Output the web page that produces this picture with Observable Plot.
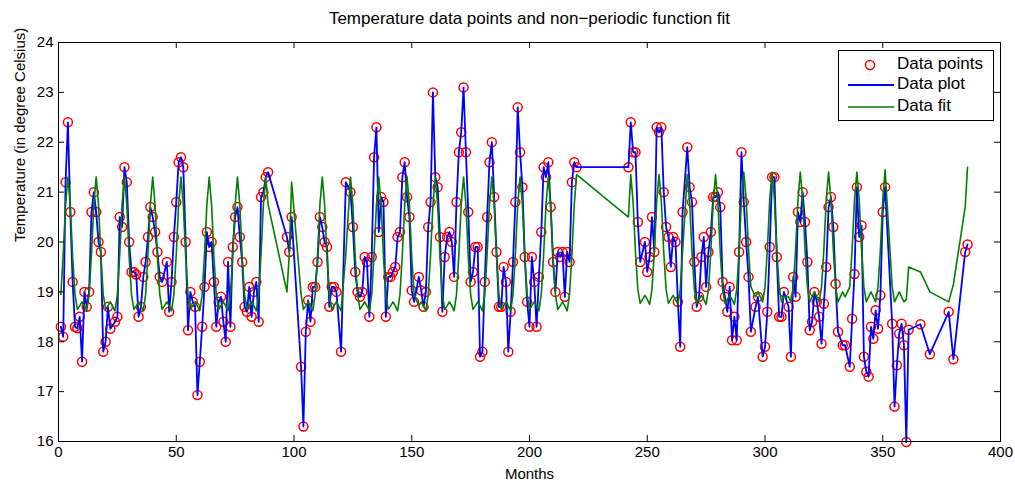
<!DOCTYPE html>
<html>
<head>
<meta charset="utf-8">
<script src="https://cdn.jsdelivr.net/npm/d3@7"></script>
<script src="https://cdn.jsdelivr.net/npm/@observablehq/plot@0.6"></script>
<style>
  html, body { margin: 0; padding: 0; background: #fff; }
  #wrap { position: relative; width: 1015px; height: 483px; font-family: "Liberation Sans", Arial, sans-serif; }
  #legend { position: absolute; left: 838px; top: 50px; width: 154px; height: 69px; border: 1px solid #000; background: #fff; }
  #legend svg { position: absolute; left: 0; top: 0; }
  #legend span { position: absolute; left: 58px; font-size: 17px; line-height: 20px; color: #000; white-space: nowrap; }
</style>
</head>
<body>
<div id="wrap">
  <div id="chart"></div>
  <div id="legend">
    <svg width="154" height="69">
      <circle cx="31" cy="14" r="4.5" fill="none" stroke="#ff0000" stroke-width="1.5"></circle>
      <line x1="9" x2="55" y1="34" y2="34" stroke="#0000ff" stroke-width="1.8"></line>
      <line x1="9" x2="55" y1="56" y2="56" stroke="#008000" stroke-width="1.6"></line>
    </svg>
    <span style="top:3px">Data points</span>
    <span style="top:23px">Data plot</span>
    <span style="top:45px">Data fit</span>
  </div>
</div>
<script>
const title = "Temperature data points and non\u2212periodic function fit";
const xLabel = "Months";
const yLabel = "Temperature (in degree Celsius)";
const xTicks = [0, 50, 100, 150, 200, 250, 300, 350, 400];
const yTicks = [16, 17, 18, 19, 20, 21, 22, 23, 24];

// Segment 1: months 1-89
const months1 = [1,2,3,4,5,6,7,8,9,10,11,12,13,14,15,16,17,18,19,20,21,22,
  24,25,26,27,28,29,30,31,32,33,34,35,36,37,38,39,40,41,42,43,44,
  46,47,48,49,50,51,52,53,54,55,56,57,58,59,60,61,62,63,64,65,66,67,68,69,70,71,72,73,74,75,76,77,78,79,80,81,82,83,84,85,86,87,88,89];
const temps1 = [18.3,18.1,21.2,22.4,20.6,19.2,18.3,18.27,18.5,17.6,19.0,18.7,19.0,20.6,21.0,20.6,20.0,19.8,17.8,18.0,18.7,18.26,
  18.4,18.5,20.5,20.3,21.5,21.2,20.0,19.4,19.4,19.35,18.5,18.7,19.3,19.6,20.1,20.7,20.5,20.2,19.8,19.3,19.2,
  19.6,18.6,19.2,20.1,20.8,21.6,21.7,21.5,20.0,18.23,19.0,18.8,18.7,16.93,17.6,18.3,19.1,20.2,19.9,20.0,19.2,18.3,18.8,18.9,18.4,18.0,19.6,18.3,19.9,20.5,20.7,20.1,19.6,18.7,18.6,19.1,18.5,19.0,19.2,18.4,20.9,21.0,21.3,21.4];
const fit1 = [18.95,19.75,20.75,21.3,20.75,19.7,18.95,18.65,18.72,18.8,18.72,18.62,18.95,19.75,20.75,21.3,20.75,19.7,18.95,18.65,18.72,18.8,
  18.62,18.95,19.75,20.75,21.3,20.75,19.7,18.95,18.65,18.72,18.8,18.72,18.62,18.95,19.75,20.75,21.3,20.75,19.7,18.95,18.65,
  18.8,18.72,18.62,18.95,19.75,20.75,21.3,20.75,19.7,18.95,18.65,18.72,18.8,18.72,18.62,18.95,19.75,20.75,21.3,20.75,19.7,18.95,18.65,18.72,18.8,18.72,18.62,18.95,19.75,20.75,21.3,20.75,19.7,18.95,18.65,18.72,18.8,18.72,18.62,18.95,19.75,20.75,21.3,20.75];

// Segment 2: months 97-220
const months2 = [97,98,99,
  103,104,105,106,107,108,109,110,111,112,113,114,115,116,117,118,
  120,122,
  124,125,126,127,128,129,130,131,132,133,134,135,136,137,138,139,140,141,142,143,144,145,146,147,148,149,150,151,
  153,154,155,156,157,158,159,160,161,162,163,164,165,166,167,168,169,170,171,172,173,174,175,176,177,178,179,180,181,182,183,184,185,186,187,188,189,190,191,192,193,194,195,196,197,198,199,200,201,202,203,204,205,206,207,208,209,210,211,212,213,214,215,216,217,218,219,220];
const temps2 = [20.1,19.8,20.5,
  17.5,16.3,18.2,18.83,18.4,19.1,19.1,19.6,20.5,20.3,20.0,19.9,18.7,19.1,19.1,19.0,
  17.8,21.2,
  21.0,20.3,19.4,19.0,18.9,19.0,19.7,19.6,18.5,19.7,21.7,22.3,20.2,20.9,20.8,18.5,19.3,19.3,19.4,19.5,20.1,20.2,21.3,21.6,20.9,20.5,19.03,18.8,
  19.3,19.03,18.7,19.0,20.3,20.8,23.0,21.3,21.1,20.1,18.6,19.7,20.1,20.2,20.0,19.3,20.8,21.8,22.2,23.1,21.8,20.6,19.2,19.4,19.9,19.9,17.7,17.8,19.2,20.5,21.6,22.0,20.9,19.8,18.7,18.7,19.5,19.2,17.8,18.6,19.6,20.8,22.7,21.8,21.1,19.7,18.8,18.3,19.7,19.2,18.3,19.3,20.2,21.5,21.3,21.6,20.7,19.6,19.0,19.8,19.7,19.8,18.9,19.8,19.6,21.2,21.6,21.5];
const fit2 = [19.0,19.75,21.2,
  18.95,18.65,18.72,18.8,18.72,18.62,18.95,19.75,20.75,21.3,20.75,19.7,18.95,18.65,18.72,18.8,
  18.62,19.75,
  21.3,20.75,19.7,18.95,18.65,18.72,18.8,18.72,18.62,18.95,19.75,20.75,21.3,20.75,19.7,18.95,18.65,18.72,18.8,18.72,18.62,18.95,19.75,20.75,21.3,20.75,19.7,18.95,
  18.72,18.8,18.72,18.62,18.95,19.75,20.75,21.3,20.75,19.7,18.95,18.65,18.72,18.8,18.72,18.62,18.95,19.75,20.75,21.3,20.75,19.7,18.95,18.65,18.72,18.8,18.72,18.62,18.95,19.75,20.75,21.3,20.75,19.7,18.95,18.65,18.72,18.8,18.72,18.62,18.95,19.75,20.75,21.3,20.75,19.7,18.95,18.65,18.72,18.8,18.72,18.62,18.95,19.75,20.75,21.3,20.75,19.7,18.95,18.65,18.72,18.8,18.72,18.62,18.95,19.75,20.75,21.35];

// Segment 3: months 242-386
const months3 = [242,243,244,245,246,247,
  249,250,251,252,253,254,255,256,257,258,259,260,261,262,263,264,265,
  267,268,269,270,271,272,273,274,275,276,277,278,279,280,281,282,283,284,285,286,287,288,289,290,291,292,293,294,
  296,297,
  299,300,301,302,303,304,305,306,307,308,
  310,311,312,313,314,315,316,317,318,319,320,321,322,323,324,325,326,327,328,329,330,331,
  333,334,
  336,337,338,339,340,341,342,343,344,345,346,347,348,349,350,351,
  354,355,356,357,358,359,360,361,
  366,370,378,380,385,386];
const temps3 = [21.5,22.4,21.8,21.8,20.4,19.6,
  20.0,19.4,19.7,20.5,19.8,22.3,22.2,22.3,21.0,20.3,20.1,19.5,20.1,20.0,18.8,17.9,20.6,
  21.9,21.1,20.8,19.6,18.7,18.9,19.7,20.1,19.1,19.8,20.2,20.9,20.9,21.0,20.7,19.2,18.9,18.6,19.1,18.03,18.5,18.03,19.8,21.8,20.8,20.0,19.3,18.2,
  18.7,18.9,
  17.7,17.9,18.6,19.9,21.3,21.3,19.7,18.5,18.5,19.0,
  18.7,17.7,19.3,18.9,20.6,20.4,21.0,20.4,19.6,18.23,18.4,19.0,18.8,18.5,17.96,18.76,19.5,20.7,20.9,20.3,19.16,18.2,
  17.93,17.93,
  17.5,18.46,19.36,21.1,20.1,20.33,17.7,17.4,17.3,18.3,18.06,18.63,18.26,18.93,20.6,21.1,
  18.36,16.7,17.53,18.16,18.36,17.93,15.99,18.24,
  18.35,17.75,18.6,17.65,19.8,19.95];
const fit3 = [20.5,21.35,20.8,19.8,19.05,18.77,
  18.93,18.85,18.75,19.05,19.8,20.8,21.35,20.8,19.8,19.05,18.77,18.85,18.93,18.85,18.75,19.05,19.8,
  21.35,20.8,19.8,19.05,18.77,18.85,18.93,18.85,18.75,19.05,19.8,20.8,21.35,20.8,19.8,19.05,18.77,18.85,18.93,18.85,18.75,19.05,19.8,20.85,21.4,20.85,19.85,19.1,
  18.9,19.0,
  18.8,19.1,19.85,20.85,21.4,20.85,19.85,19.1,18.8,18.9,
  18.9,18.8,19.1,19.85,20.85,21.4,20.85,19.85,19.1,18.8,18.9,19.0,18.9,18.8,19.1,19.85,20.85,21.4,20.85,19.85,19.1,18.8,
  19.0,18.9,
  19.1,19.85,20.85,21.4,20.85,19.85,19.1,18.8,18.9,19.0,18.9,18.8,19.1,19.85,20.85,21.45,
  19.1,18.8,18.9,19.0,18.9,18.8,18.85,19.5,
  19.4,19.0,18.8,19.15,20.7,21.5];

const months = months1.concat(months2, months3);
const temps = temps1.concat(temps2, temps3);
const fit = fit1.concat(fit2, fit3);
const rows = months.map((m, i) => ({month: m, temp: temps[i], fit: fit[i]}));

const W = 1015, H = 483, mL = 58, mR = 15, mT = 42, mB = 42;
const frameH = H - mT - mB, frameW = W - mL - mR, tickLen = 6;

const chart = Plot.plot({
  width: W,
  height: H,
  marginLeft: mL,
  marginRight: mR,
  marginTop: mT,
  marginBottom: mB,
  style: {fontFamily: "'Liberation Sans', Arial, sans-serif", fontSize: "15px", color: "#000", background: "#fff"},
  x: {domain: [0, 400]},
  y: {domain: [16, 24]},
  marks: [
    Plot.dot(rows, {x: "month", y: "temp", r: 4.5, stroke: "#ff0000", strokeWidth: 1.5, fill: "none"}),
    Plot.line(rows, {x: "month", y: "temp", stroke: "#0000ff", strokeWidth: 1.8}),
    Plot.line(rows, {x: "month", y: "fit", stroke: "#008000", strokeWidth: 1.6}),
    // inward ticks on all four sides
    Plot.tickX(xTicks, {x: d => d, insetTop: frameH - tickLen, stroke: "#000"}),
    Plot.tickX(xTicks, {x: d => d, insetBottom: frameH - tickLen, stroke: "#000"}),
    Plot.tickY(yTicks, {y: d => d, insetRight: frameW - tickLen, stroke: "#000"}),
    Plot.tickY(yTicks, {y: d => d, insetLeft: frameW - tickLen, stroke: "#000"}),
    Plot.axisX({ticks: xTicks, tickSize: 0, tickPadding: 5, label: null, fontSize: 15}),
    Plot.axisY({ticks: yTicks, tickSize: 0, tickPadding: 5, label: null, fontSize: 15}),
    Plot.frame({stroke: "#000", strokeWidth: 1}),
    Plot.text([title], {text: d => d, frameAnchor: "top", dy: -24, lineAnchor: "middle", fontSize: 17}),
    Plot.text([xLabel], {text: d => d, frameAnchor: "bottom", dy: 33, lineAnchor: "middle", fontSize: 15}),
    Plot.text([yLabel], {text: d => d, frameAnchor: "left", dx: -38, rotate: -90, lineAnchor: "middle", fontSize: 15})
  ]
});
document.getElementById("chart").appendChild(chart);
</script>
</body>
</html>
